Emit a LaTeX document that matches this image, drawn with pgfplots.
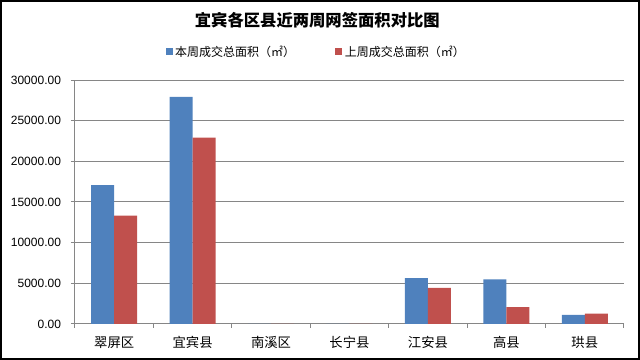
\documentclass[border=0pt]{standalone}
\usepackage{fontspec}
\usepackage{pgfplots}
\pgfplotsset{compat=1.18}
\setmainfont{Liberation Sans}
\newfontfamily\cjk{Noto Sans CJK SC}
\definecolor{barblue}{HTML}{4F81BD}
\definecolor{barred}{HTML}{C0504D}
\definecolor{axgray}{HTML}{868686}
\begin{document}
\begin{tikzpicture}[x=1pt,y=1pt]
\path[use as bounding box] (0,0) rectangle (480,270);
\draw[black, line width=1.2pt] (0.6,0.6) rectangle (479.4,269.4);
\node[font=\cjk\bfseries\fontsize{12.25}{14}\selectfont] at (238,254.6) {宜宾各区县近两周网签面积对比图};
\begin{axis}[
  at={(56.25pt,27pt)}, anchor=south west, scale only axis,
  width=411.75pt, height=183pt,
  ybar=0pt, bar width=17.25pt,
  xmin=-0.5, xmax=6.5, ymin=0, ymax=30000,
  axis x line*=bottom, axis y line*=left,
  axis line style={axgray, line width=0.75pt},
  tick align=outside,
  xtick={0,1,2,3,4,5,6},
  xticklabels={翠屏区,宜宾县,南溪区,长宁县,江安县,高县,珙县},
  major x tick style={draw=none},
  minor xtick={-0.5,0.5,1.5,2.5,3.5,4.5,5.5,6.5},
  minor x tick style={axgray, line width=0.75pt},
  minor tick length=3pt, major tick length=3pt,
  x tick label style={font=\cjk\fontsize{10}{12}\selectfont, yshift=-3pt},
  ytick={0,5000,10000,15000,20000,25000,30000},
  y tick style={axgray, line width=0.75pt},
  ymajorgrids, grid style={axgray, line width=0.75pt},
  y tick label style={font=\fontsize{9}{11}\selectfont, xshift=-4pt},
  yticklabel style={/pgf/number format/.cd, fixed, fixed zerofill, precision=2, 1000 sep={}, assume math mode=true},
  scaled y ticks=false,
  legend style={at={(0.44,1.115)}, anchor=center, draw=none, fill=none,
    legend columns=2, font=\cjk\fontsize{9}{11}\selectfont,
    /tikz/every even column/.append style={column sep=28pt}},
  legend image code/.code={\fill[#1] (0pt,-2.6pt) rectangle (5.25pt,2.6pt);},
]
\addplot[fill=barblue, draw=none] coordinates {(0,17070) (1,27940) (2,0) (3,0) (4,5625) (5,5500) (6,1125)};
\addplot[fill=barred, draw=none] coordinates {(0,13330) (1,22930) (2,0) (3,0) (4,4450) (5,2080) (6,1290)};
\legend{本周成交总面积（㎡）,上周成交总面积（㎡）}
\end{axis}
\end{tikzpicture}
\end{document}
